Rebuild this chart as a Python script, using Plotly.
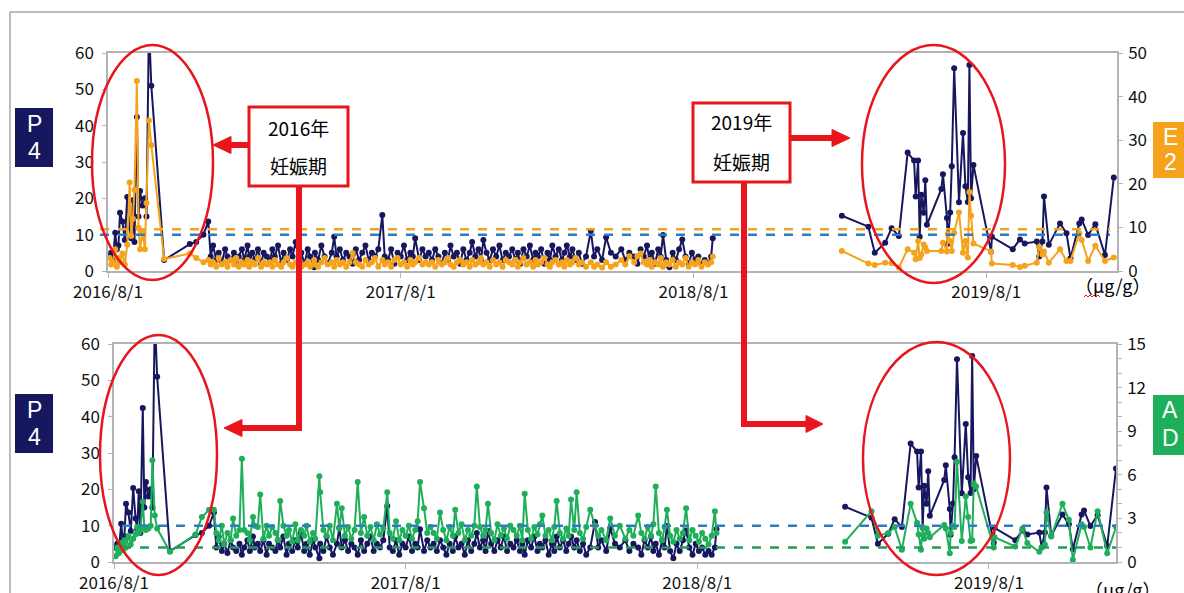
import pandas as pd
import plotly.graph_objects as go

BASE = pd.Timestamp("2016-08-01")

# ---- sample days (offset from 2016/8/1) and hormone values, 2016/8 - 2018/8 ----
days_a = [2, 4, 6, 9, 11, 13, 15, 18, 21, 24, 27, 29, 31, 33, 36, 38, 40, 43, 46, 48,
          51, 54, 70, 102, 110, 119,
          125, 128, 131, 135, 138, 142, 146, 149, 153, 157, 160, 163, 167, 170, 174, 176, 180, 183, 187, 191,
          194, 198,
          202, 205, 208, 212, 216, 219, 223, 227, 230, 234, 238, 241, 245, 249, 252, 257, 258, 262, 266, 270,
          274, 279, 282, 285, 289, 293, 297,
          301, 305, 309, 313, 317, 321, 325, 329, 333, 337, 342, 345, 349, 353, 357, 361, 365, 369, 373, 377,
          380, 383, 388, 392, 396,
          400, 404, 408, 412, 416, 420, 424, 427, 431, 435, 439, 443, 447, 451, 454, 458, 462, 465, 468, 472,
          476, 480, 484, 488, 492, 496,
          500, 504, 508, 511, 514, 518, 522, 526, 530, 533, 536, 540, 544, 548, 551, 554, 558, 562, 566, 569,
          572, 576, 579, 583, 587, 591, 596,
          602, 606, 610, 616, 621, 627, 633, 640, 645, 650, 656, 660, 664, 668, 672, 675, 678, 682, 686, 689,
          692, 696, 700, 704, 708, 712, 716, 720, 724, 728, 732, 736, 740, 744, 748, 752, 754]

p4_a = [4, 5, 3, 10.5, 6, 7, 16, 13.6, 8.5, 20.4, 12, 9, 19.5, 8, 42.4, 15, 22, 18, 20, 15,
        68, 51, 3, 7.4, 8, 10,
        13.6, 4, 7, 3, 5, 2.5, 6, 4, 3, 5, 2, 4, 6, 3, 7, 4, 5, 3, 6, 2,
        5, 4,
        3, 6, 4, 7, 2, 5, 3, 6, 4, 8, 3, 5, 2, 6, 4, 1, 5, 3, 7, 4,
        2, 5, 9.4, 4, 6, 3, 5,
        4, 2, 6, 3, 5, 7, 3, 5, 4, 6, 15.4, 4, 3, 6, 2, 5, 4, 7, 3, 5,
        4, 9, 3, 6, 4,
        5, 3, 6, 4, 2, 5, 3, 7, 4, 5, 2, 6, 3, 5, 8, 4, 6, 3, 8.5, 5,
        3, 6, 4, 7, 3, 5,
        4, 6, 3, 5, 2, 6, 4, 7, 3, 5, 4, 6, 2, 5, 3, 7, 4, 6, 3, 5,
        7, 4, 6, 3, 5, 2, 4,
        11, 4, 6, 3, 9.3, 5, 4, 6, 3, 5, 4, 2, 6, 4, 7, 3, 5, 2, 6, 4,
        9.9, 3, 1, 5, 3, 6, 8.7, 4, 2, 5, 3, 4, 2, 3, 2, 4, 9]

e2_a = [3, 1.5, 2, 5, 1, 3, 2, 4, 1.5, 6, 20.3, 8, 12, 18.6, 43.6, 10, 5, 9, 5, 15.6,
        34.5, 28.9, 2.75, 4, 3, 2,
        2.5, 1.5, 2, 1, 3, 1.5, 2, 1, 2.5, 1.5, 3, 1, 2, 1.5, 2.5, 1, 2, 1.5, 3, 1,
        2, 1.5,
        2, 1, 2.5, 1.5, 1, 2, 3, 1.5, 1, 2, 2.5, 1, 1.5, 2, 1, 2.5, 1.5, 1, 2, 3,
        1.5, 2, 1, 2.5, 1.5, 2, 1,
        2, 4.1, 2, 1.5, 1, 2.5, 1.5, 2, 3, 1, 2.5, 1.5, 2, 1, 2.5, 3, 1.5, 2, 1, 2.5,
        1.5, 2, 3, 1.5, 2,
        1.5, 2, 1, 2.5, 1.5, 2, 3, 1.5, 1, 2, 2.5, 1.5, 2, 1, 2.5, 1.5, 2, 3, 1.5, 2,
        1, 2.5, 1.5, 2, 1, 2.5,
        2, 1.5, 2.5, 1, 2, 3, 1.5, 2, 1, 2.5, 1.5, 2, 3, 1.5, 1, 2, 2.5, 1.5, 2, 1,
        2.5, 1.5, 2, 3, 1.5, 2, 1,
        2, 1, 1.5, 0.8, 2, 1, 1.5, 2.5, 1.5, 3.4, 2, 3.4, 4, 2, 1.5, 2.5, 1, 2, 1.5, 3,
        1, 2, 1.5, 2.5, 1, 2, 1.5, 3, 1, 2, 1.5, 2.5, 1, 2, 1.5, 2, 3.3]

ad_a = [0.4, 1.0, 0.6, 1.3, 0.8, 1.5, 1.0, 1.8, 1.2, 1.6, 1.9, 2.4, 2.0, 2.2, 4.15, 2.4, 2.2, 2.3, 2.5, 7.0,
        3.2, 2.3, 0.7, 1.9, 3.1, 3.6,
        3.6, 2, 1.5, 2.5, 1.2, 2, 1.5, 3, 1.8, 2.2, 7.1, 2.2, 2, 1.5, 3.1, 2.5, 2.4, 4.65, 1.6, 2.5,
        1.8, 2.4,
        2, 1.5, 4.2, 2.5, 1.8, 2.2, 1.4, 2.6, 1.5, 2.2, 1.8, 2.5, 1.4, 2, 1.6, 5.9, 4.8, 2.2, 1.8, 2.5,
        1.5, 4.0, 2.3, 3.7, 1.8, 2.4, 1.6,
        2.2, 5.5, 2, 3.1, 1.8, 2.4, 1.5, 2.6, 1.9, 2.3, 4.8, 2, 1.6, 2.8, 1.5, 2.2, 1.8, 2.5, 1.6, 2.2,
        2.8, 5.5, 3.7, 2, 2.4,
        2, 1.6, 3.4, 2.2, 1.5, 2.4, 1.8, 3.6, 2, 2.6, 1.5, 2.2, 1.8, 2.5, 5.2, 2.4, 1.8, 2.2, 4.0, 2,
        1.5, 2.6, 1.8, 2.3, 1.6, 2.5,
        2.2, 1.8, 2.5, 1.5, 4.7, 2.2, 1.6, 2.4, 1.9, 2.6, 3.2, 1.8, 2.2, 1.5, 2.4, 4.2, 2, 1.6, 2.3, 1.8,
        4.3, 2.2, 4.8, 2, 1.6, 2.4, 3.6,
        2.5, 1.8, 2.2, 1.5, 3.0, 1.8, 2.5, 1.6, 2.2, 1.8, 3.2, 2, 1.6, 2.4, 1.8, 2.6, 5.2, 2, 1.5, 2.4,
        3.6, 1.8, 1.4, 2.2, 1.6, 2, 3.7, 1.5, 2.2, 1.8, 1.4, 2, 1.6, 1.2, 1.8, 3.5, 2.0]

# ---- 2019 samples ----
days_b = [915, 948, 956, 969, 977, 986, 997, 1005, 1007, 1010, 1012, 1014, 1017, 1019, 1021, 1039,
          1041, 1046, 1047, 1050, 1052, 1055, 1061, 1066, 1069, 1072, 1074, 1076, 1079, 1101, 1102, 1128,
          1137, 1143, 1158, 1161, 1165, 1167, 1173, 1187, 1195, 1200, 1211, 1214, 1222, 1231, 1243, 1254]
p4_b = [15.2, 12.2, 5.0, 7.8, 11.8, 9.6, 32.6, 30.4, 20.5, 30.4, 9.4, 21.0, 16.0, 25.0, 12.7, 22.6,
        26.6, 14.6, 7.5, 16.1, 28.8, 55.8, 18.9, 38.0, 23.3, 19.0, 56.7, 20.0, 29.2, 5.3, 9.4, 6.0,
        8.7, 7.6, 8.1, 4.0, 8.1, 20.5, 7.2, 13.1, 10.4, 3.5, 13.1, 14.2, 9.9, 12.9, 4.4, 25.7]
e2_b = [4.6, 1.7, 1.4, 1.9, 1.8, 0.8, 5.0, 4.2, 2.7, 6.9, 3.0, 3.8, 6.1, 5.4, 4.6, 4.6,
        6.5, 4.5, 8.5, 6.9, 4.6, 8.8, 13.4, 4.2, 6.9, 3.1, 18.1, 12.7, 6.3, 4.5, 1.7, 1.4,
        0.9, 1.2, 1.9, 5.5, 3.8, 4.5, 1.9, 5.0, 2.3, 2.3, 8.6, 7.1, 2.3, 5.8, 2.3, 3.1]
ad_b = [1.4, 3.5, 1.8, 2.0, 2.4, 0.85, 4.0, 2.7, 1.9, 0.85, 2.4, 1.6, 2.3, 2.0, 1.7, 2.55,
        2.3, 0.6, 2.0, 2.5, 2.4, 6.9, 1.45, 4.5, 3.1, 1.45, 1.5, 5.4, 5.2, 1.0, 1.7, 1.07,
        2.3, 1.3, 0.7, 1.0, 1.2, 3.4, 1.75, 4.0, 2.9, 0.15, 2.6, 2.4, 1.0, 3.5, 0.6, 2.4]

# reference levels
p4_ref = 10
e2_ref = 9.6
ad_ref = 1.0

# axis ticks
x_tick_dates = ["2016-08-01", "2017-08-01", "2018-08-01", "2019-08-01"]
x_tick_text = ["2016/8/1", "2017/8/1", "2018/8/1", "2019/8/1"]
p4_ticks = [0, 10, 20, 30, 40, 50, 60]
e2_ticks = [0, 10, 20, 30, 40, 50]
ad_ticks = [0, 3, 6, 9, 12, 15]

NAVY = "#17175f"
ORANGE = "#f5a31c"
GREEN = "#1faf5a"
BLUE_D = "#2e7cbf"
GREEN_D = "#1f9f55"
RED = "#e8151c"
AXIS = "#b3b3b3"
FONT = "Noto Sans CJK JP"

W, H = 1184, 593


def fx(px):
    return px / W


def fy(py):
    return 1 - py / H


def to_dates(days):
    return [BASE + pd.Timedelta(days=d) for d in days]


fig = go.Figure()


def series(days, vals, color, xa, ya):
    fig.add_trace(go.Scatter(
        x=to_dates(days), y=vals, mode="lines+markers", xaxis=xa, yaxis=ya,
        line=dict(color=color, width=2), marker=dict(color=color, size=6),
        cliponaxis=True, showlegend=False, hoverinfo="skip"))


# upper panel: P4 (left) and E2 (right)
for d, v in ((days_a, p4_a), (days_b, p4_b)):
    series(d, v, NAVY, "x", "y")
for d, v in ((days_a, e2_a), (days_b, e2_b)):
    series(d, v, ORANGE, "x", "y2")
# lower panel: P4 (left) and AD (right)
for d, v in ((days_a, p4_a), (days_b, p4_b)):
    series(d, v, NAVY, "x2", "y3")
for d, v in ((days_a, ad_a), (days_b, ad_b)):
    series(d, v, GREEN, "x2", "y4")

tickfont = dict(family=FONT, size=17, color="#111111")
xcommon = dict(type="date", tickmode="array", tickvals=x_tick_dates, ticktext=x_tick_text,
               showline=True, linecolor=AXIS, linewidth=1.5, mirror=True, showgrid=False,
               ticks="outside", ticklen=5, tickcolor=AXIS, tickfont=tickfont, zeroline=False,
               automargin=False)
ycommon = dict(showline=True, linecolor=AXIS, linewidth=1.5, showgrid=False, zeroline=False,
               ticks="outside", ticklen=4, tickcolor=AXIS, tickfont=tickfont, tickmode="array",
               automargin=False)

fig.update_layout(
    width=W, height=H, margin=dict(l=0, r=0, t=0, b=0, pad=0, autoexpand=False),
    paper_bgcolor="white", plot_bgcolor="white", showlegend=False,
    xaxis=dict(xcommon, domain=[fx(108), fx(1117)], anchor="y",
               range=[BASE, BASE + pd.Timedelta(days=1258)]),
    yaxis=dict(ycommon, domain=[fy(271), fy(53)], anchor="x", range=[0, 60], tickvals=p4_ticks,
               ticklabelstandoff=5),
    yaxis2=dict(ycommon, overlaying="y", side="right", anchor="x", range=[0, 50], tickvals=e2_ticks,
                ticklabelstandoff=2),
    xaxis2=dict(xcommon, domain=[fx(114), fx(1116)], anchor="y3",
                range=[BASE, BASE + pd.Timedelta(days=1254)]),
    yaxis3=dict(ycommon, domain=[fy(562), fy(344)], anchor="x2", range=[0, 60], tickvals=p4_ticks,
                ticklabelstandoff=5),
    yaxis4=dict(ycommon, overlaying="y3", side="right", anchor="x2", range=[0, 15], tickvals=ad_ticks,
                ticklabelstandoff=2,
                minor=dict(dtick=1, ticks="outside", ticklen=4, tickcolor=AXIS)),
)

shapes = []
# reference levels (dashed)
shapes += [
    dict(type="line", xref="paper", yref="y2", x0=fx(100), x1=fx(1110), y0=e2_ref, y1=e2_ref,
         line=dict(color=ORANGE, width=2.5, dash="dash")),
    dict(type="line", xref="paper", yref="y", x0=fx(100), x1=fx(1110), y0=p4_ref, y1=p4_ref,
         line=dict(color=BLUE_D, width=2.5, dash="dash")),
    dict(type="line", xref="paper", yref="y3", x0=fx(122), x1=fx(1116), y0=p4_ref, y1=p4_ref,
         line=dict(color=BLUE_D, width=2.5, dash="dash")),
    dict(type="line", xref="paper", yref="y4", x0=fx(122), x1=fx(1116), y0=ad_ref, y1=ad_ref,
         line=dict(color=GREEN_D, width=2.5, dash="dash")),
]

# outer frame
shapes += [
    dict(type="line", xref="paper", yref="paper", x0=fx(10), x1=fx(1184), y0=fy(12), y1=fy(12),
         line=dict(color="#7a7a7a", width=1)),
    dict(type="line", xref="paper", yref="paper", x0=fx(10), x1=fx(10), y0=fy(12), y1=fy(593),
         line=dict(color="#7a7a7a", width=1)),
]

# ellipses around the pregnancy periods
for x0, x1, y0, y1 in ((92, 213, 45, 280), (862, 1005, 45, 283),
                       (100, 217, 335, 575), (863, 1010, 342, 575)):
    shapes.append(dict(type="circle", xref="paper", yref="paper",
                       x0=fx(x0), x1=fx(x1), y0=fy(y1), y1=fy(y0),
                       line=dict(color=RED, width=2.5)))


def poly(points, width=6, color=RED):
    p = "M " + " L ".join(f"{fx(a):.5f},{fy(b):.5f}" for a, b in points)
    return dict(type="path", xref="paper", yref="paper", path=p,
                line=dict(color=color, width=width))


def head(tip, base_x, half):
    tx, ty = tip
    p = (f"M {fx(tx):.5f},{fy(ty):.5f} L {fx(base_x):.5f},{fy(ty - half):.5f} "
         f"L {fx(base_x):.5f},{fy(ty + half):.5f} Z")
    return dict(type="path", xref="paper", yref="paper", path=p,
                fillcolor=RED, line=dict(color=RED, width=1))


# connector arrows
shapes += [
    poly([(249, 145), (230, 145)]), head((213, 145), 231, 8.5),
    poly([(299, 186), (299, 428), (240, 428)]), head((224, 428), 242, 8.5),
    poly([(790, 138), (834, 138)]), head((850, 138), 832, 8.5),
    poly([(744, 182), (744, 424), (808, 424)]), head((823, 424), 806, 8.5),
]

# wavy underline below the unit's μ
shapes.append(poly([(1084, 297), (1086, 295), (1088, 297), (1090, 295), (1092, 297),
                    (1094, 295), (1096, 297), (1098, 295), (1100, 297)], width=1, color=RED))

# text boxes
for x0, x1, y0, y1 in ((249, 348, 107, 186), (693, 790, 103, 182)):
    shapes.append(dict(type="rect", xref="paper", yref="paper",
                       x0=fx(x0), x1=fx(x1), y0=fy(y1), y1=fy(y0),
                       fillcolor="white", line=dict(color=RED, width=3)))

# hormone tags
tags = [(15, 53, 108, 167, NAVY), (1153, 1190, 122, 178, ORANGE),
        (15, 53, 394, 453, NAVY), (1153, 1190, 395, 455, GREEN)]
for x0, x1, y0, y1, c in tags:
    shapes.append(dict(type="rect", xref="paper", yref="paper",
                       x0=fx(x0), x1=fx(x1), y0=fy(y1), y1=fy(y0),
                       fillcolor=c, line=dict(width=0)))

fig.update_layout(shapes=shapes)

ann = []


def text(px, py, s, size=19, color="black", family=FONT, xanchor="center"):
    ann.append(dict(xref="paper", yref="paper", x=fx(px), y=fy(py), text=s, showarrow=False,
                    xanchor=xanchor, yanchor="middle",
                    font=dict(family=family, size=size, color=color)))


text(298.5, 127, "2016年")
text(298.5, 166, "妊娠期")
text(741.5, 122, "2019年")
text(741.5, 161, "妊娠期")

tag_font = "Liberation Sans"
text(34, 124, "P", 23, "white", tag_font)
text(34, 151, "4", 23, "white", tag_font)
text(34, 410, "P", 23, "white", tag_font)
text(34, 437, "4", 23, "white", tag_font)
text(1170, 137, "E", 23, "white", tag_font)
text(1170, 162, "2", 23, "white", tag_font)
text(1170, 410, "A", 23, "white", tag_font)
text(1170, 438, "D", 23, "white", tag_font)

text(1112, 285, "（μg/g）", 18)
text(1122, 589, "（μg/g）", 18)

fig.update_layout(annotations=ann)

fig.write_html("out.html")
